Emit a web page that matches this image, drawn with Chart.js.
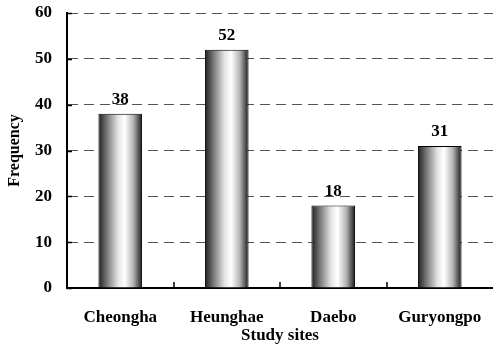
<!DOCTYPE html>
<html>
<head>
<meta charset="utf-8">
<script src="https://cdn.jsdelivr.net/npm/chart.js@4"></script>
<style>
  html, body { margin: 0; padding: 0; background: #fff; }
  #wrap { width: 493px; height: 345px; }
</style>
</head>
<body>
<div id="wrap"><canvas id="c" width="493" height="345"></canvas></div>
<script>
// study sites and counts
var sites = ['Cheongha', 'Heunghae', 'Daebo', 'Guryongpo'];
var freq = [38, 52, 18, 31];
var yTicks = [0, 10, 20, 30, 40, 50, 60];

var FONT = '"Liberation Serif", "Times New Roman", serif';
var BAR_PCT = 0.41;

// cylinder look: dark edges, bright band right of centre
function barFill(ctx) {
  var chart = ctx.chart;
  var xs = chart.scales.x;
  if (!xs || ctx.dataIndex === undefined) return '#ccc';
  var cx = xs.getPixelForValue(ctx.dataIndex);
  var w = (xs.width / sites.length) * BAR_PCT;
  if (!isFinite(cx) || !isFinite(w) || w <= 0) return '#ccc';
  var g = chart.ctx.createLinearGradient(cx - w / 2, 0, cx + w / 2, 0);
  g.addColorStop(0, '#1e1e1e');
  g.addColorStop(0.2, '#7a7a7a');
  g.addColorStop(0.45, '#e4e4e4');
  g.addColorStop(0.6, '#ffffff');
  g.addColorStop(0.8, '#b4b4b4');
  g.addColorStop(1, '#1a1a1a');
  return g;
}

// numbers over the bars + inside tick marks
var extras = {
  id: 'extras',
  afterDatasetsDraw: function(chart) {
    var c = chart.ctx;
    var meta = chart.getDatasetMeta(0);
    c.save();
    c.font = 'bold 17px ' + FONT;
    c.fillStyle = '#000';
    c.textAlign = 'center';
    c.textBaseline = 'alphabetic';
    meta.data.forEach(function(bar, i) {
      c.fillText(String(freq[i]), bar.x, bar.y - 10);
    });
    c.restore();
  },
  afterDraw: function(chart) {
    var c = chart.ctx;
    var xs = chart.scales.x, ys = chart.scales.y;
    var a = chart.chartArea;
    c.save();
    c.strokeStyle = '#000';
    c.lineWidth = 1.5;
    c.beginPath();
    yTicks.forEach(function(v) {
      var y = Math.round(ys.getPixelForValue(v)) + 0.5;
      c.moveTo(a.left, y);
      c.lineTo(a.left + 5, y);
    });
    for (var i = 1; i < sites.length; i++) {
      var x = Math.round((xs.getPixelForValue(i - 1) + xs.getPixelForValue(i)) / 2);
      c.moveTo(x, a.bottom);
      c.lineTo(x, a.bottom - 6);
    }
    c.stroke();
    c.restore();
  }
};

new Chart(document.getElementById('c'), {
  type: 'bar',
  data: {
    labels: sites,
    datasets: [{
      data: freq,
      backgroundColor: barFill,
      borderColor: '#000',
      borderWidth: 1,
      barPercentage: BAR_PCT,
      categoryPercentage: 1
    }]
  },
  options: {
    responsive: false,
    animation: false,
    layout: { padding: { top: 13, right: -2, left: 0, bottom: 0 } },
    plugins: { legend: { display: false }, tooltip: { enabled: false } },
    scales: {
      x: {
        grid: { display: false, drawTicks: false },
        border: { display: true, color: '#000', width: 2 },
        ticks: { color: '#000', padding: 19, font: { family: FONT, size: 17, weight: 'bold' } },
        title: { display: true, text: 'Study sites', color: '#000', padding: { top: -3, bottom: 0 },
                 font: { family: FONT, size: 17, weight: 'bold', lineHeight: 1.05 } },
        afterFit: function(s) { s.height = 57; s.paddingLeft = 0; s.paddingRight = 0; }
      },
      y: {
        min: 0, max: 60,
        afterBuildTicks: function(s) { s.ticks = yTicks.map(function(v) { return { value: v }; }); },
        grid: { color: '#555', lineWidth: 1, drawTicks: false },
        border: { display: true, color: '#000', width: 2, dash: [10, 6] },
        ticks: { color: '#000', padding: 15, font: { family: FONT, size: 17, weight: 'bold' } },
        title: { display: true, text: 'Frequency', color: '#000', padding: { top: 5, bottom: 0 },
                 font: { family: FONT, size: 16, weight: 'bold' } },
        afterFit: function(s) { s.width = 67; s.paddingTop = 0; s.paddingBottom = 0; }
      }
    }
  },
  plugins: [extras]
});
</script>
</body>
</html>
